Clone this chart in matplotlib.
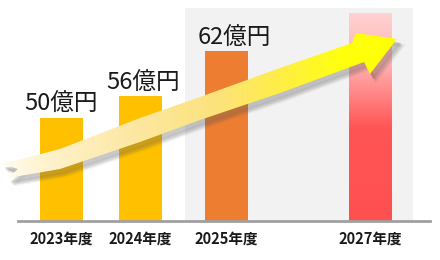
import numpy as np
import matplotlib
matplotlib.use("Agg")
import matplotlib.pyplot as plt
from matplotlib.patches import Polygon, Rectangle
from matplotlib.colors import LinearSegmentedColormap

plt.rcParams['font.family'] = ['Noto Sans CJK JP', 'DejaVu Sans']

# ---- data ----
categories = ["2023年度", "2024年度", "2025年度", "2027年度"]
bar_heights = [103, 125, 170, 208]          # bar heights (arbitrary units)
value_labels = ["50億円", "56億円", "62億円", ""]

# ---- layout ----
W, H = 440, 260
base_px = 221
xpos = [61.5, 140.5, 226.5, 370.5]
bar_w = 43
bar_colors = ["#FFC000", "#FFC000", "#ED7D31", None]
label_pos = [(61.5, 104), (143.5, 83), (234, 38)]

fig = plt.figure(figsize=(W / 100, H / 100), dpi=100)
fig.patch.set_facecolor("white")

# main axes: 1 data unit = 1 pixel, y=0 at baseline
ax = fig.add_axes([0, (H - base_px) / H, 1, base_px / H])
ax.set_xlim(0, W)
ax.set_ylim(0, base_px)
ax.set_facecolor("none")
for s in ["top", "right", "left"]:
    ax.spines[s].set_visible(False)
ax.spines["bottom"].set_color("#a0a0a0")
ax.spines["bottom"].set_linewidth(2)
ax.spines["bottom"].set_bounds(18, 430)
ax.spines["bottom"].set_zorder(5)
ax.set_yticks([])
ax.set_xticks(xpos, categories)
ax.tick_params(axis="x", length=0, pad=7, labelsize=10.5, labelcolor="#1a1a1a")
for t in ax.get_xticklabels():
    t.set_fontweight("bold")

# gray background panel
ax.add_patch(Rectangle((185, 0), 413 - 185, base_px - 8, facecolor="#f2f2f2",
                       edgecolor="none", zorder=0))

bars = ax.bar(xpos, bar_heights, width=bar_w,
              color=[c if c else "none" for c in bar_colors], zorder=2)

# gradient bar for 2027
b = bars[3]
grad_cmap = LinearSegmentedColormap.from_list(
    "pinkred", [(0, "#ff5050"), (0.45, "#ff5555"), (0.75, "#ffb0b0"), (1.0, "#ffd2d2")])
gy = np.linspace(0, 1, 256).reshape(-1, 1)
im = ax.imshow(gy, cmap=grad_cmap, origin="lower", aspect="auto",
               extent=(b.get_x(), b.get_x() + b.get_width(), 0, b.get_height()), zorder=2)
im.set_clip_path(b)
ax.set_xlim(0, W)
ax.set_ylim(0, base_px)

for (lx, ly), txt in zip(label_pos, value_labels):
    ax.text(lx, base_px - ly, txt, ha="center", va="center", fontsize=17,
            color="#1a1a1a", zorder=6)

# ---- arrow overlay (decoration) ----
ax2 = fig.add_axes([0, 0, 1, 1])
ax2.set_xlim(0, W)
ax2.set_ylim(H, 0)
ax2.axis("off")
ax2.set_zorder(3)

arrow_pts = [(2, 164), (60, 149), (140, 118), (200, 97), (280, 68), (352, 43),
             (356, 33), (397, 39), (370, 74), (364, 62), (280, 93), (200, 120),
             (140, 142), (60, 169), (8, 178), (18, 169)]
pts = np.array(arrow_pts, dtype=float)

# soft shadow
for k, (dx, dy, a) in enumerate([(6, 7, 0.06), (5, 6, 0.08), (4, 5, 0.10), (3, 4, 0.12)]):
    ax2.add_patch(Polygon(pts + [dx, dy], closed=True, facecolor="#555555",
                          edgecolor="#555555", linewidth=2 - k * 0.4, alpha=a, zorder=1))

arrow_cmap = LinearSegmentedColormap.from_list(
    "arr", [(0, "#fffbee"), (0.12, "#fff2cc"), (0.35, "#fce7a0"), (0.55, "#fde27a"),
            (0.72, "#fff040"), (0.85, "#ffff10"), (1.0, "#ffff00")])
poly = Polygon(pts, closed=True, facecolor="none", edgecolor="none", zorder=2)
ax2.add_patch(poly)
gx = np.linspace(0, 1, 256).reshape(1, -1)
im2 = ax2.imshow(gx, cmap=arrow_cmap, aspect="auto", extent=(0, 400, H, 0), zorder=2)
im2.set_clip_path(poly)
ax2.set_xlim(0, W)
ax2.set_ylim(H, 0)

fig.savefig("out.png", dpi=100)
